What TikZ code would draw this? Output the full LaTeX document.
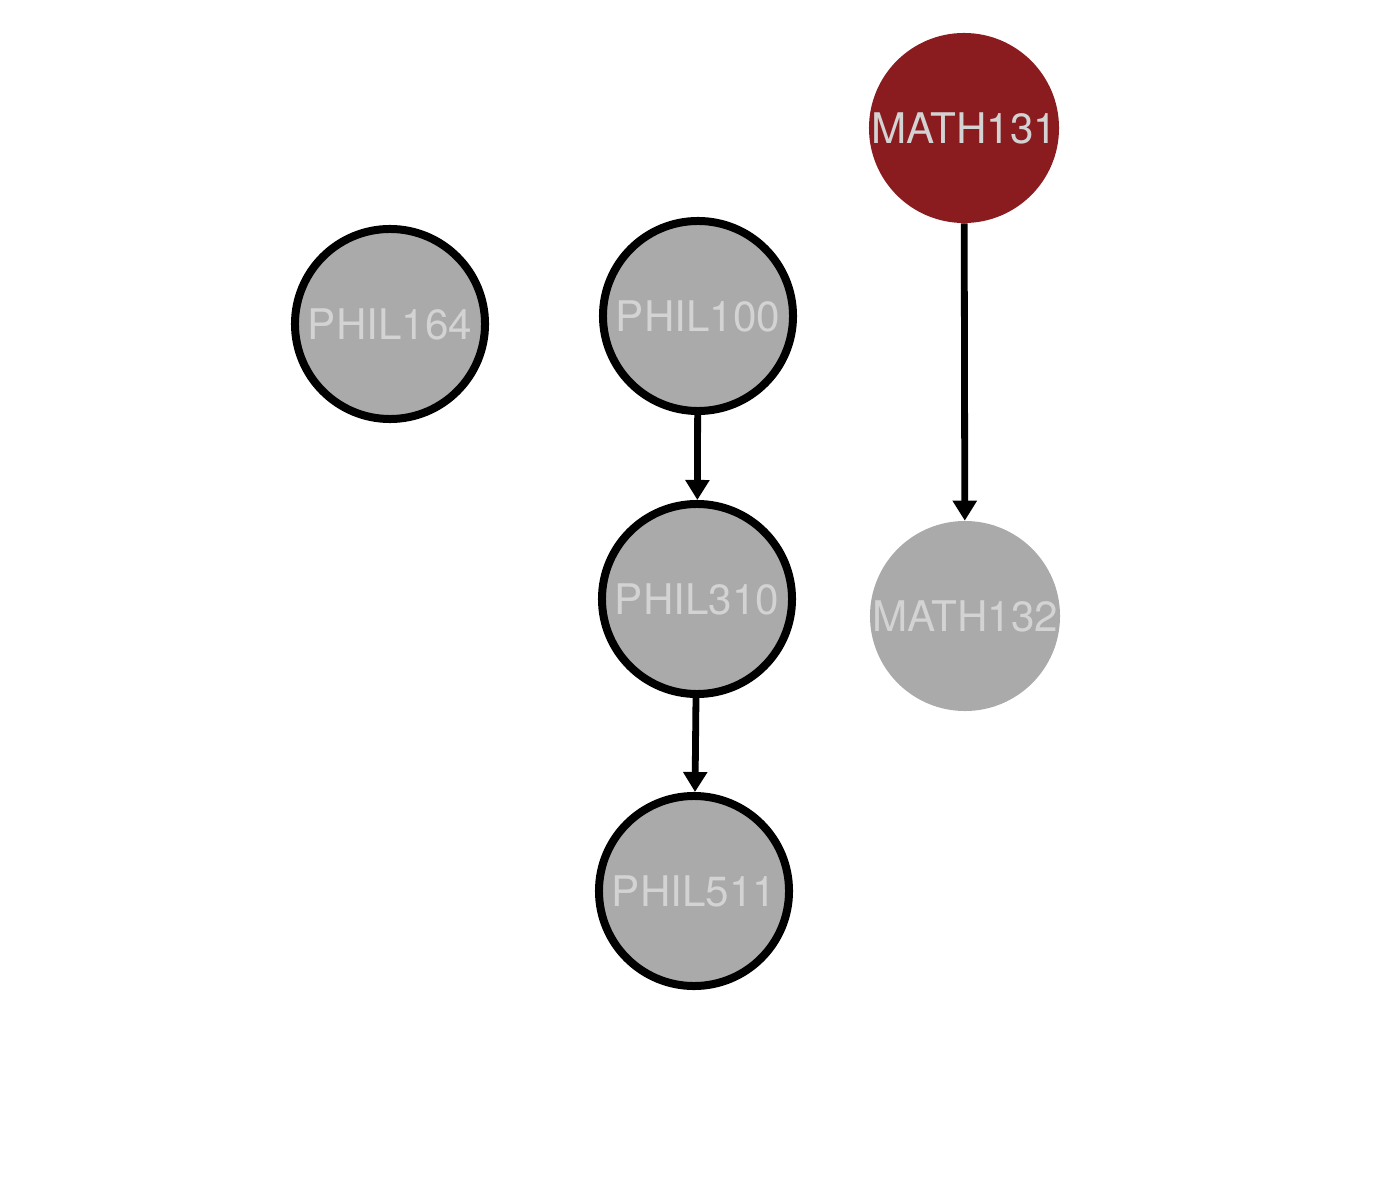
\documentclass[tikz,border=0pt]{standalone}
\usepackage{fontspec}
\setmainfont{TeX Gyre Heros}
\usepackage{xcolor}
\usetikzlibrary{arrows.meta, positioning}
\definecolor{coursered}{HTML}{8A1C1F}
\definecolor{coursegray}{HTML}{AAAAAA}
\definecolor{labelgray}{HTML}{D3D3D3}
\tikzset{
  course/.style={circle, minimum size=4.75cm, inner sep=0pt, fill=coursegray, text=labelgray, font=\fontsize{30}{33}\selectfont},
  taken/.style={course, draw=black, line width=0.2cm},
  current/.style={course, fill=coursered},
  arrow/.style={line width=0.17cm, -{Triangle[length=0.5cm, width=0.58cm]}}
}
\begin{document}
\begin{tikzpicture}[x=0.025cm, y=-0.025cm]
\useasboundingbox (0,0) rectangle (1400,1200);
% Courses
\node[current] (math131) at (964,128) {MATH131};
\node[taken] (phil164) at (390,324) {PHIL164};
\node[taken] (phil100) at (698,316) {PHIL100};
\node[taken] (phil310) at (697,599) {PHIL310};
\node[taken] (phil511) at (694,891) {PHIL511};
\node[course] (math132) at (965,616) {MATH132};

\draw[arrow] (phil100) -- (phil310);
\draw[arrow] (phil310) -- (phil511);
\draw[arrow] (math131) -- (math132);
\end{tikzpicture}
\end{document}
